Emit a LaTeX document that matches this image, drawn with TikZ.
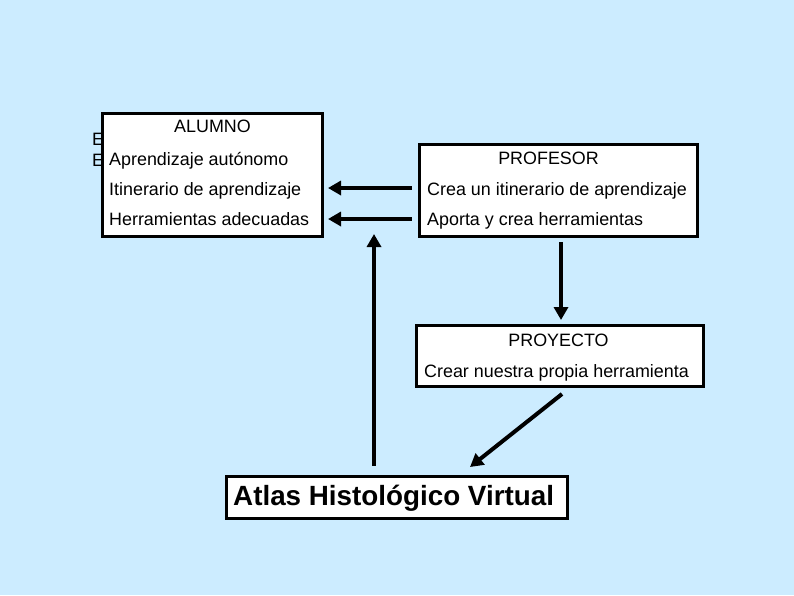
\documentclass[tikz,border=0pt]{standalone}
\usepackage{fontspec}
\setmainfont{Liberation Sans}
\usetikzlibrary{arrows.meta}
\definecolor{bgblue}{RGB}{204,236,255}
\tikzset{
  box/.style={draw=black, fill=white, line width=3.5pt, inner sep=0pt},
  txt/.style={inner sep=0pt, font=\fontsize{17.9}{20}\selectfont},
  big/.style={inner sep=0pt, font=\fontsize{27.8}{30}\selectfont\bfseries},
  arr/.style={line width=4pt, -{Triangle[length=13pt,width=14pt]}}
}
\begin{document}
\begin{tikzpicture}[x=1pt,y=-1pt]
\fill[bgblue] (0,0) rectangle (794,595);
\useasboundingbox (0,0) rectangle (794,595);
% partly hidden text behind ALUMNO box
\node[txt, anchor=base west] (e1) at (92,145) {E};
\node[txt, anchor=base west] (e2) at (92,166) {E};
% boxes
\node[box, minimum width=220pt, minimum height=123pt] (alumno) at (212.5,175) {};
\node[box, minimum width=278pt, minimum height=92pt] (profesor) at (558.5,190.5) {};
\node[box, minimum width=287pt, minimum height=61pt] (proyecto) at (560,356) {};
\node[box, minimum width=341pt, minimum height=42pt] (atlas) at (397,497.5) {};
% ALUMNO texts
\node[txt, anchor=base] (talumno) at (212.5,132) {ALUMNO};
\node[txt, anchor=base west] (apr) at (109,165) {Aprendizaje autónomo};
\node[txt, anchor=base west] (iti) at (109,195) {Itinerario de aprendizaje};
\node[txt, anchor=base west] (her) at (109,225) {Herramientas adecuadas};
% PROFESOR texts
\node[txt, anchor=base] (tprof) at (548.5,164) {PROFESOR};
\node[txt, anchor=base west] (crea) at (427,195) {Crea un itinerario de aprendizaje};
\node[txt, anchor=base west] (aporta) at (427,225) {Aporta y crea herramientas};
% PROYECTO texts
\node[txt, anchor=base] (tproy) at (558.5,346) {PROYECTO};
\node[txt, anchor=base west] (crear) at (424,377) {Crear nuestra propia herramienta};
% Atlas text
\node[big, anchor=base west] (tatlas) at (233,505) {Atlas Histológico Virtual};
% connectors
\coordinate (a1s) at (413,188);
\coordinate (a1e) at (328,188);
\coordinate (a2s) at (413,219);
\coordinate (a2e) at (328,219);
\draw[arr] (a1s -| profesor.west) ++(-6,0) -- (a1e);
\draw[arr] (a2s -| profesor.west) ++(-6,0) -- (a2e);
\coordinate (upe) at (374,234);
\draw[arr] (atlas.north -| upe) ++(0,-9) -- (upe);
\coordinate (dne) at (561,320);
\draw[arr] (profesor.south -| dne) ++(0,4) -- (dne);
\coordinate (dgs) at (562,394);
\coordinate (dge) at (470,467);
\draw[arr] (dgs) -- (dge);
\end{tikzpicture}
\end{document}
